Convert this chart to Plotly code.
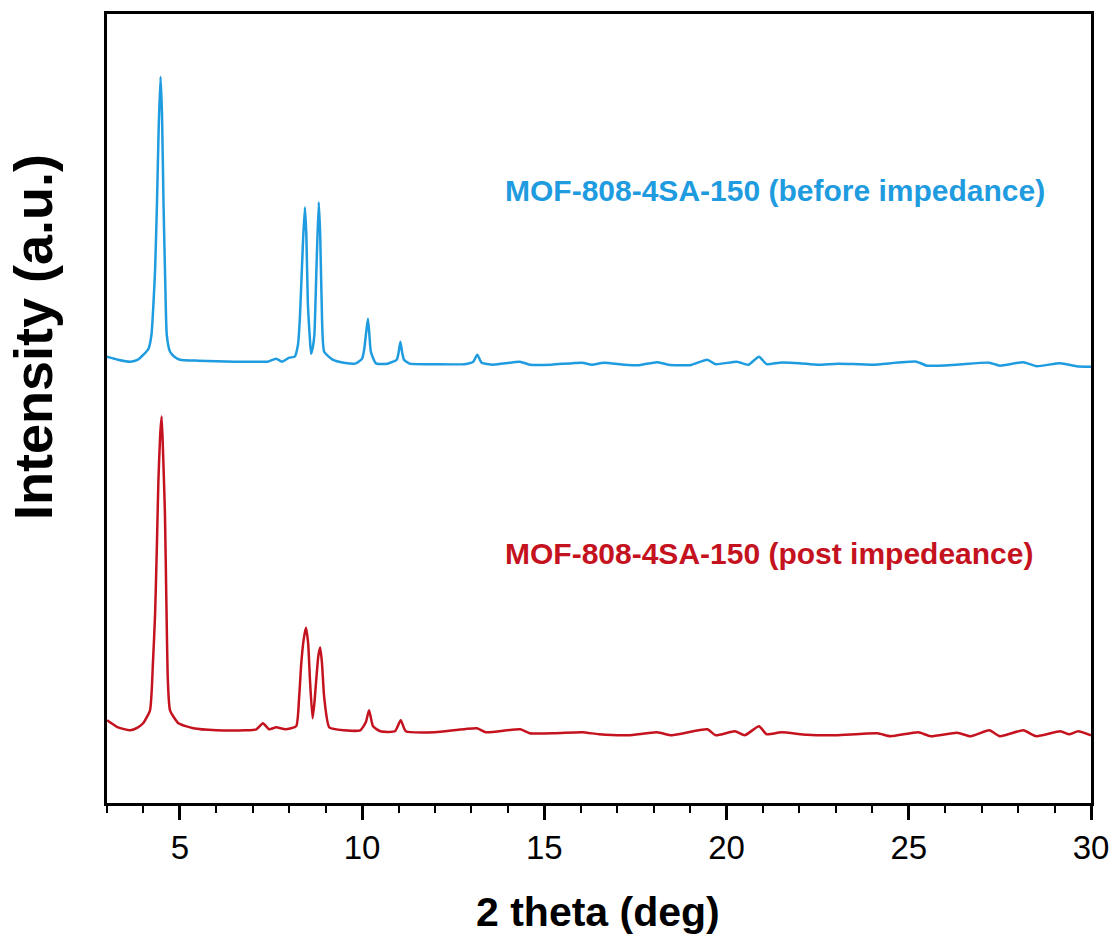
import plotly.graph_objects as go

# 2-theta positions (deg) and intensities (a.u.)
before_x = [3.00, 3.30, 3.64, 3.85, 4.00, 4.14, 4.22, 4.28, 4.32, 4.37, 4.42, 4.47, 4.51, 4.55, 4.60, 4.64,
            4.73, 4.85, 5.00, 5.5, 6.0, 6.5, 7.0, 7.4, 7.64, 7.8, 8.0, 8.15, 8.24, 8.29, 8.33, 8.38,
            8.43, 8.47, 8.51, 8.56, 8.60, 8.65, 8.69, 8.75, 8.81, 8.85, 8.89, 8.96, 9.19, 9.5, 9.83,
            10.00, 10.06, 10.11, 10.16, 10.20, 10.24, 10.38, 10.7, 10.95, 11.00, 11.05, 11.10, 11.15,
            11.3, 12.0, 12.8, 13.05, 13.16, 13.28, 13.6, 14.33, 14.6, 15.2, 16.04, 16.3, 16.63, 17.2,
            17.6, 18.09, 18.4, 19.0, 19.47, 19.7, 20.28, 20.6, 20.89, 21.1, 21.45, 21.99, 22.5, 23.06,
            24.0, 25.21, 25.5, 26.3, 27.21, 27.5, 28.14, 28.5, 29.16, 29.6, 30.0]
before_y = [448, 445, 443, 445, 450, 456, 470, 505, 536, 600, 680, 729, 690, 603, 520, 470,
            453, 448, 445, 444, 443.5, 443, 443, 443, 446, 443, 447, 448, 460, 485, 520, 565,
            598, 570, 503, 470, 451, 458, 470, 540, 603, 570, 503, 453, 445, 442, 441.3,
            446, 456, 472, 486, 470, 453, 441.3, 441, 445, 452, 463, 452, 445,
            441, 440.5, 440.5, 443, 450, 442, 440, 443, 440, 440, 442, 440, 442, 440,
            439.5, 442.5, 440, 439.5, 445, 440.5, 443, 440, 448, 440.5, 442, 441.5, 440, 441,
            440, 443, 439, 440, 442, 439, 442.5, 438.5, 441.5, 438.5, 438]

post_x = [3.00, 3.30, 3.64, 3.85, 3.99, 4.18, 4.26, 4.32, 4.37, 4.41, 4.46, 4.50, 4.54, 4.59, 4.63,
          4.67, 4.73, 4.96, 5.37, 6.0, 6.8, 7.10, 7.28, 7.45, 7.64, 7.9, 8.19, 8.27, 8.33, 8.40,
          8.46, 8.52, 8.57, 8.64, 8.69, 8.74, 8.80, 8.85, 8.90, 8.96, 9.10, 9.5, 9.95, 10.10, 10.19,
          10.30, 10.5, 10.9, 11.06, 11.2, 12.0, 13.15, 13.4, 14.34, 14.6, 15.3, 16.04, 16.5, 17.3,
          18.09, 18.5, 19.47, 19.7, 20.23, 20.5, 20.89, 21.1, 21.5, 22.2, 23.0, 24.14, 24.5, 25.26,
          25.6, 26.33, 26.7, 27.21, 27.5, 28.14, 28.5, 29.16, 29.4, 29.65, 30.0]
post_y = [83, 76, 73, 76, 80, 93, 140, 190, 260, 323, 370, 388, 350, 290, 200,
          123, 93, 80, 75, 73, 73, 74, 80, 74, 76, 74, 77, 105, 140, 165,
          176, 160, 123, 85, 100, 123, 148, 156, 140, 106, 76, 73, 73, 81, 93,
          77, 72, 72, 83, 72, 71, 75, 71, 74, 70, 70, 71, 69, 68,
          71, 68, 74, 68, 72, 68, 77, 69, 71, 68.5, 68, 70, 67, 71,
          67, 70.5, 67, 73, 67, 73, 67, 72, 69, 72, 68]

x_ticks = [5, 10, 15, 20, 25, 30]

BLUE = "#1f9be0"
RED = "#c4121f"
FONT = "Arial, Liberation Sans, sans-serif"

L, R, T, B = 107, 25, 11, 137
W, H = 1120, 940
PW, PH = W - L - R, H - T - B


def px(xp):
    return (xp - L) / PW


def py(yp):
    return (H - B - yp) / PH


fig = go.Figure()
fig.add_trace(go.Scatter(x=before_x, y=before_y, mode="lines",
                         line=dict(color=BLUE, width=2.5, shape="spline", smoothing=0.5), name="before"))
fig.add_trace(go.Scatter(x=post_x, y=post_y, mode="lines",
                         line=dict(color=RED, width=2.5, shape="spline", smoothing=0.5), name="post"))

fig.update_layout(
    width=W, height=H,
    margin=dict(l=L, r=R, t=T, b=B),
    paper_bgcolor="white", plot_bgcolor="white",
    showlegend=False,
    font=dict(family=FONT, color="black"),
    xaxis=dict(range=[3, 30], tickvals=x_ticks, ticks="outside", ticklen=14, tickwidth=2.5,
               tickcolor="black", showline=True, linecolor="black", linewidth=2.5, mirror=True,
               showgrid=False, zeroline=False, tickfont=dict(size=33, family=FONT),
               ticklabelstandoff=0,
               minor=dict(dtick=1, tick0=0, ticks="outside", ticklen=7, tickwidth=2, tickcolor="black",
                          showgrid=False)),
    yaxis=dict(range=[0, 792], showticklabels=False, ticks="", showline=True, linecolor="black",
               linewidth=2.5, mirror=True, showgrid=False, zeroline=False),
    annotations=[
        dict(text="<b>MOF-808-4SA-150 (before impedance)</b>", x=px(505), y=py(188),
             xref="paper", yref="paper", xanchor="left", yanchor="middle", showarrow=False,
             font=dict(size=30, color=BLUE, family=FONT)),
        dict(text="<b>MOF-808-4SA-150 (post impedeance)</b>", x=px(505), y=py(553),
             xref="paper", yref="paper", xanchor="left", yanchor="middle", showarrow=False,
             font=dict(size=30, color=RED, family=FONT)),
        dict(text="<b>2 theta (deg)</b>", x=px(600), y=py(912),
             xref="paper", yref="paper", xanchor="center", yanchor="middle", showarrow=False,
             font=dict(size=41, color="black", family=FONT)),
        dict(text="<b>Intensity (a.u.)</b>", x=px(32), y=py(335), textangle=-90,
             xref="paper", yref="paper", xanchor="center", yanchor="middle", showarrow=False,
             font=dict(size=54, color="black", family=FONT)),
    ],
)

fig.write_html("out.html", config={"displayModeBar": False},
               post_script="document.body.style.margin='0';document.body.style.overflow='hidden';")
